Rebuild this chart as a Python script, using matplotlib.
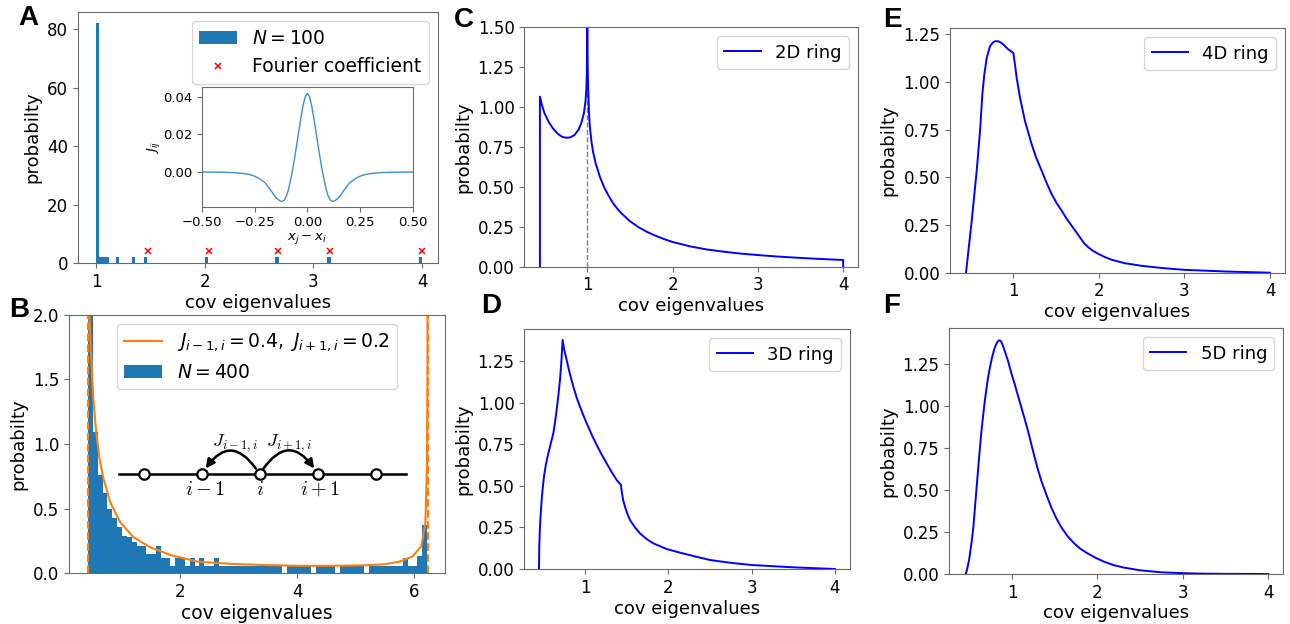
import numpy as np
import matplotlib
matplotlib.use('Agg')
import matplotlib.pyplot as plt
from matplotlib.patches import FancyArrowPatch

# ---------------- data ----------------
# Panel A: eigenvalue histogram, N = 100
a_bar_left = [1.00, 1.03, 1.06, 1.09, 1.18, 1.33, 1.44, 2.00, 2.65, 3.13, 3.97]
a_bar_height = [82, 2, 2, 2, 2, 2, 2, 2, 2, 2, 2]
a_bar_width = 0.03
a_fourier_x = [1.48, 2.04, 2.67, 3.15, 4.00]
a_fourier_y = [4.2, 4.2, 4.2, 4.2, 4.2]

# Panel A inset: coupling profile J_ij vs x_j - x_i
inset_x = [-0.50, -0.40, -0.35, -0.30, -0.275, -0.25, -0.225, -0.20, -0.175, -0.15, -0.13, -0.12,
           -0.11, -0.10, -0.09, -0.08, -0.07, -0.06, -0.05, -0.04, -0.03, -0.02,
           -0.01, 0.00, 0.01, 0.02, 0.03, 0.04, 0.05, 0.06, 0.07, 0.08, 0.09,
           0.10, 0.11, 0.12, 0.13, 0.15, 0.175, 0.20, 0.225, 0.25, 0.275, 0.30, 0.35, 0.40, 0.50]
inset_J = [0.0, -0.0001, -0.0003, -0.0008, -0.0013, -0.0022, -0.0037, -0.0058, -0.0095, -0.0135, -0.0153, -0.0156,
           -0.0150, -0.0130, -0.0095, -0.0045, 0.0012, 0.0078, 0.0148, 0.0220, 0.0292, 0.0355,
           0.0400, 0.0418, 0.0400, 0.0355, 0.0292, 0.0220, 0.0148, 0.0078, 0.0012, -0.0045, -0.0095,
           -0.0130, -0.0150, -0.0156, -0.0153, -0.0135, -0.0095, -0.0058, -0.0037, -0.0022, -0.0013, -0.0008,
           -0.0003, -0.0001, 0.0]

# Panel B: histogram (N = 400), 70 bins between the spectrum edges
b_edge_lo, b_edge_hi = 0.42, 6.23
b_heights = [3.2, 1.09, 0.76, 0.62, 0.50, 0.43, 0.36, 0.29, 0.28, 0.24,
             0.21, 0.21, 0.15, 0.15, 0.21, 0.12, 0.12, 0.06, 0.12, 0.12,
             0.06, 0.12, 0.06, 0.12, 0.06, 0.06, 0.12, 0.06, 0.06, 0.06,
             0.06, 0.06, 0.06, 0.06, 0.06, 0.06, 0.06, 0.06, 0.06, 0.06,
             0.0, 0.06, 0.06, 0.06, 0.06, 0.06, 0.0, 0.06, 0.06, 0.06,
             0.06, 0.0, 0.06, 0.06, 0.06, 0.06, 0.06, 0.0, 0.06, 0.06,
             0.06, 0.06, 0.06, 0.06, 0.06, 0.12, 0.06, 0.06, 0.13, 0.37]
# Panel B: theoretical density
b_theory_x = [0.422, 0.425, 0.43, 0.44, 0.45, 0.465, 0.485, 0.513, 0.559, 0.615,
              0.684, 0.798, 0.969, 1.197, 1.482, 1.824, 2.30, 2.90, 3.50, 4.05,
              4.60, 5.19, 5.50, 5.755, 5.98, 6.13, 6.20, 6.225, 6.235, 6.24]
b_theory_y = [5.0, 3.5, 2.6, 2.05, 1.92, 1.75, 1.56, 1.327, 1.094, 0.887,
              0.732, 0.551, 0.396, 0.279, 0.202, 0.142, 0.090, 0.072, 0.063, 0.058,
              0.058, 0.062, 0.070, 0.090, 0.130, 0.210, 0.390, 0.80, 1.50, 5.0]
b_edges_marked = [0.422, 6.24]
ring_nodes_x = [1.37, 2.37, 3.36, 4.36, 5.36]

# Panel C: 2D ring
c_x = [0.445, 0.445, 0.47, 0.50, 0.55, 0.60, 0.65, 0.70, 0.75, 0.80, 0.85, 0.90, 0.93,
       0.96, 0.98, 0.99, 0.995, 1.0, 1.005, 1.01, 1.02, 1.03, 1.05, 1.07, 1.10, 1.15,
       1.20, 1.25, 1.30, 1.35, 1.40, 1.50, 1.60, 1.70, 1.80, 1.90, 2.00, 2.20, 2.40, 2.60,
       2.80, 3.00, 3.25, 3.50, 3.75, 4.00, 4.00]
c_y = [0.0, 1.065, 1.01, 0.96, 0.905, 0.865, 0.835, 0.815, 0.808, 0.810, 0.825, 0.86, 0.90,
       0.96, 1.04, 1.12, 1.22, 1.60, 1.25, 1.13, 0.97, 0.88, 0.78, 0.715, 0.645, 0.56,
       0.495, 0.445, 0.40, 0.365, 0.335, 0.285, 0.248, 0.218, 0.194, 0.173, 0.155, 0.128, 0.108, 0.094,
       0.082, 0.073, 0.063, 0.055, 0.048, 0.042, 0.0]

# Panel D: 3D ring
d_x = [0.448, 0.450, 0.452, 0.456, 0.46, 0.47, 0.48, 0.494, 0.508, 0.53, 0.56, 0.59, 0.62,
       0.64, 0.66, 0.68, 0.70, 0.715, 0.732, 0.75, 0.78, 0.82, 0.86, 0.90, 0.94, 0.98,
       1.02, 1.08, 1.14, 1.20, 1.26, 1.32, 1.38, 1.432, 1.437, 1.444, 1.46, 1.48, 1.51,
       1.54, 1.60, 1.66, 1.74, 1.82, 1.98, 2.14, 2.30, 2.50, 2.75, 3.00, 3.50, 4.00]
d_y = [0.0, 0.08, 0.14, 0.20, 0.254, 0.34, 0.415, 0.49, 0.555, 0.625, 0.695, 0.755, 0.815,
       0.88, 0.955, 1.04, 1.136, 1.23, 1.376, 1.32, 1.256, 1.17, 1.096, 1.03, 0.975, 0.924,
       0.876, 0.808, 0.745, 0.688, 0.635, 0.583, 0.535, 0.505, 0.48, 0.455, 0.41, 0.374, 0.33,
       0.294, 0.25, 0.214, 0.18, 0.154, 0.12, 0.098, 0.078, 0.054, 0.037, 0.024, 0.010, 0.0]

# Panel E: 4D ring
e_x = [0.447, 0.514, 0.572, 0.611, 0.638, 0.661, 0.689, 0.728, 0.76, 0.786, 0.825, 0.855,
       0.883, 0.942, 1.0, 1.02, 1.039, 1.078, 1.136, 1.214, 1.27, 1.331, 1.39, 1.447, 1.505,
       1.564, 1.62, 1.681, 1.74, 1.79, 1.83, 1.875, 1.93, 1.992, 2.07, 2.148, 2.30, 2.50,
       2.75, 3.00, 3.50, 4.00]
e_y = [0.0, 0.273, 0.535, 0.744, 0.936, 1.04, 1.127, 1.188, 1.207, 1.214, 1.214, 1.207,
       1.197, 1.171, 1.153, 1.09, 1.023, 0.918, 0.796, 0.674, 0.60, 0.535, 0.47, 0.413, 0.366,
       0.326, 0.285, 0.247, 0.21, 0.178, 0.153, 0.134, 0.115, 0.099, 0.082, 0.068, 0.050, 0.036,
       0.024, 0.015, 0.006, 0.0]

# Panel F: 5D ring
f_x = [0.457, 0.47, 0.48, 0.495, 0.508, 0.527, 0.547, 0.566, 0.585, 0.605, 0.624, 0.643,
       0.663, 0.682, 0.702, 0.72, 0.740, 0.765, 0.791, 0.81, 0.83, 0.845, 0.86, 0.875,
       0.895, 0.92, 0.953, 0.99, 1.031, 1.07, 1.109, 1.15, 1.186, 1.225, 1.264, 1.30,
       1.341, 1.40, 1.457, 1.515, 1.574, 1.65, 1.729, 1.80, 1.884, 1.98, 2.078, 2.19,
       2.31, 2.50, 2.75, 3.00, 3.25, 3.50, 4.00]
f_y = [0.0, 0.02, 0.045, 0.08, 0.123, 0.195, 0.281, 0.40, 0.518, 0.64, 0.756, 0.86,
       0.953, 1.037, 1.112, 1.175, 1.23, 1.29, 1.339, 1.366, 1.385, 1.393, 1.392, 1.383,
       1.359, 1.32, 1.27, 1.20, 1.131, 1.062, 0.993, 0.92, 0.854, 0.775, 0.696, 0.628,
       0.558, 0.475, 0.40, 0.335, 0.281, 0.225, 0.182, 0.15, 0.123, 0.096, 0.073, 0.053,
       0.038, 0.022, 0.010, 0.005, 0.002, 0.001, 0.0]

# ---------------- figure ----------------
W, H = 1290, 624
fig = plt.figure(figsize=(W / 100, H / 100), dpi=100)

SPINE = '#6a6a6a'
TICK_FS = 12
LAB_FS = 13
LEG_FS = 13.5


def add_ax(l, t, r, b):
    ax = fig.add_axes([l / W, 1 - b / H, (r - l) / W, (b - t) / H])
    for s in ax.spines.values():
        s.set_color(SPINE)
    ax.tick_params(colors=SPINE, labelcolor='black', labelsize=TICK_FS)
    return ax


# ---- A ----
axA = add_ax(78, 12, 438, 263)
axA.bar(a_bar_left, a_bar_height, width=a_bar_width, align='edge', color='#1f77b4',
        label=r'$N=100$')
axA.plot(a_fourier_x, a_fourier_y, 'x', color='red', ms=5, mew=1.1, label='Fourier coefficient')
axA.set_xlim(0.834, 4.147)
axA.set_ylim(0, 85.9)
axA.set_xticks([1, 2, 3, 4])
axA.set_yticks([0, 20, 40, 60, 80])
axA.set_xlabel('cov eigenvalues', fontsize=LAB_FS, labelpad=2)
axA.set_ylabel('probabilty', fontsize=LAB_FS)
hA, lA = axA.get_legend_handles_labels()
order = [lA.index(r'$N=100$'), lA.index('Fourier coefficient')]
axA.legend([hA[i] for i in order], [lA[i] for i in order], loc='upper right', fontsize=LEG_FS)

axI = add_ax(202, 87.3, 412.7, 206.7)
axI.plot(inset_x, inset_J, color='#3d8fd1', lw=1.0)
axI.set_xlim(-0.5, 0.5)
axI.set_ylim(-0.0184, 0.045)
axI.set_xticks([-0.5, -0.25, 0, 0.25, 0.5])
axI.set_yticks([0.0, 0.02, 0.04])
axI.tick_params(labelsize=9.5)
axI.set_xlabel(r'$x_j - x_i$', fontsize=9.5, labelpad=1)
axI.set_ylabel(r'$J_{ij}$', fontsize=9.5, labelpad=1)

# ---- B ----
axB = add_ax(69, 314.7, 445, 573.3)
b_edges = np.linspace(b_edge_lo, b_edge_hi, len(b_heights) + 1)
axB.stairs(b_heights, b_edges, fill=True, color='#1f77b4', label=r'$N=400$')
axB.plot(b_theory_x, b_theory_y, color='#ff7f0e', lw=1.5,
         label=r'$J_{i-1,i}=0.4,\ J_{i+1,i}=0.2$')
for xv in b_edges_marked:
    axB.axvline(xv, color='#ff7f0e', ls='--', lw=1.5)
axB.set_xlim(0.093, 6.536)
axB.set_ylim(0, 2.0)
axB.set_xticks([2, 4, 6])
axB.set_yticks([0.0, 0.5, 1.0, 1.5, 2.0])
axB.set_xlabel('cov eigenvalues', fontsize=LAB_FS + 0.5, labelpad=2)
axB.set_ylabel('probabilty', fontsize=LAB_FS)
hB, lB = axB.get_legend_handles_labels()
axB.legend(hB[::-1], lB[::-1], loc='upper center', fontsize=LEG_FS)

# chain diagram
ry = 0.766
axB.plot([0.95, 5.86], [ry, ry], color='black', lw=1.8, zorder=5)
axB.plot(ring_nodes_x, [ry] * len(ring_nodes_x), 'o', ms=7.5, mfc='white', mec='black',
         mew=1.6, zorder=6)
for (xa, xb, rad) in [(ring_nodes_x[2], ring_nodes_x[1], 0.8), (ring_nodes_x[2], ring_nodes_x[3], -0.8)]:
    arr = FancyArrowPatch((xa, ry), (xb, ry), connectionstyle=f'arc3,rad={rad}',
                          arrowstyle='-|>', mutation_scale=13, lw=1.8, color='black',
                          shrinkA=5, shrinkB=5, zorder=7)
    axB.add_patch(arr)
axB.text(2.94, 1.005, r'$J_{i-1,i}$', math_fontfamily='cm', fontsize=13, ha='center', va='center')
axB.text(3.87, 1.005, r'$J_{i+1,i}$', math_fontfamily='cm', fontsize=13, ha='center', va='center')
axB.text(2.42, 0.65, r'$i-1$', math_fontfamily='cm', fontsize=14.5, ha='center', va='center')
axB.text(3.366, 0.65, r'$i$', math_fontfamily='cm', fontsize=14.5, ha='center', va='center')
axB.text(4.39, 0.65, r'$i+1$', math_fontfamily='cm', fontsize=14.5, ha='center', va='center')


def ring_panel(rect, xs, ys, label, xlim, ylim, yticks):
    ax = add_ax(*rect)
    ax.plot(xs, ys, color='blue', lw=1.4, label=label)
    ax.set_xlim(*xlim)
    ax.set_ylim(*ylim)
    ax.set_xticks([1, 2, 3, 4])
    ax.set_yticks(yticks)
    ax.set_xlabel('cov eigenvalues', fontsize=LAB_FS, labelpad=2)
    ax.set_ylabel('probabilty', fontsize=LAB_FS)
    ax.legend(loc='upper right', fontsize=LEG_FS - 0.5)
    ax.yaxis.set_major_formatter(matplotlib.ticker.FormatStrFormatter('%.2f'))
    return ax


axC = ring_panel((524.3, 27.3, 857.7, 266.7), c_x, c_y, '2D ring', (0.262, 4.17), (0, 1.5),
                 [0, 0.25, 0.5, 0.75, 1.0, 1.25, 1.5])
axC.axvline(1.0, color='gray', ls='--', lw=1.0, zorder=0)
axD = ring_panel((524.3, 329.3, 850, 569), d_x, d_y, '3D ring', (0.272, 4.18), (0, 1.44),
                 [0, 0.25, 0.5, 0.75, 1.0, 1.25])
axE = ring_panel((950, 28.3, 1285, 272.7), e_x, e_y, '4D ring', (0.26, 4.175), (0, 1.282),
                 [0, 0.25, 0.5, 0.75, 1.0, 1.25])
axF = ring_panel((949.3, 328.3, 1283.3, 574), f_x, f_y, '5D ring', (0.265, 4.176), (0, 1.465),
                 [0, 0.25, 0.5, 0.75, 1.0, 1.25])

# panel letters
for lab, (px, py) in {'A': (28, 18), 'B': (19, 310), 'C': (464, 20), 'D': (491, 306),
                      'E': (892, 20), 'F': (892, 306)}.items():
    fig.text(px / W, 1 - py / H, lab, fontsize=20, fontweight='bold', family='Liberation Sans',
             ha='center', va='center')

fig.savefig('out.png', dpi=100)
